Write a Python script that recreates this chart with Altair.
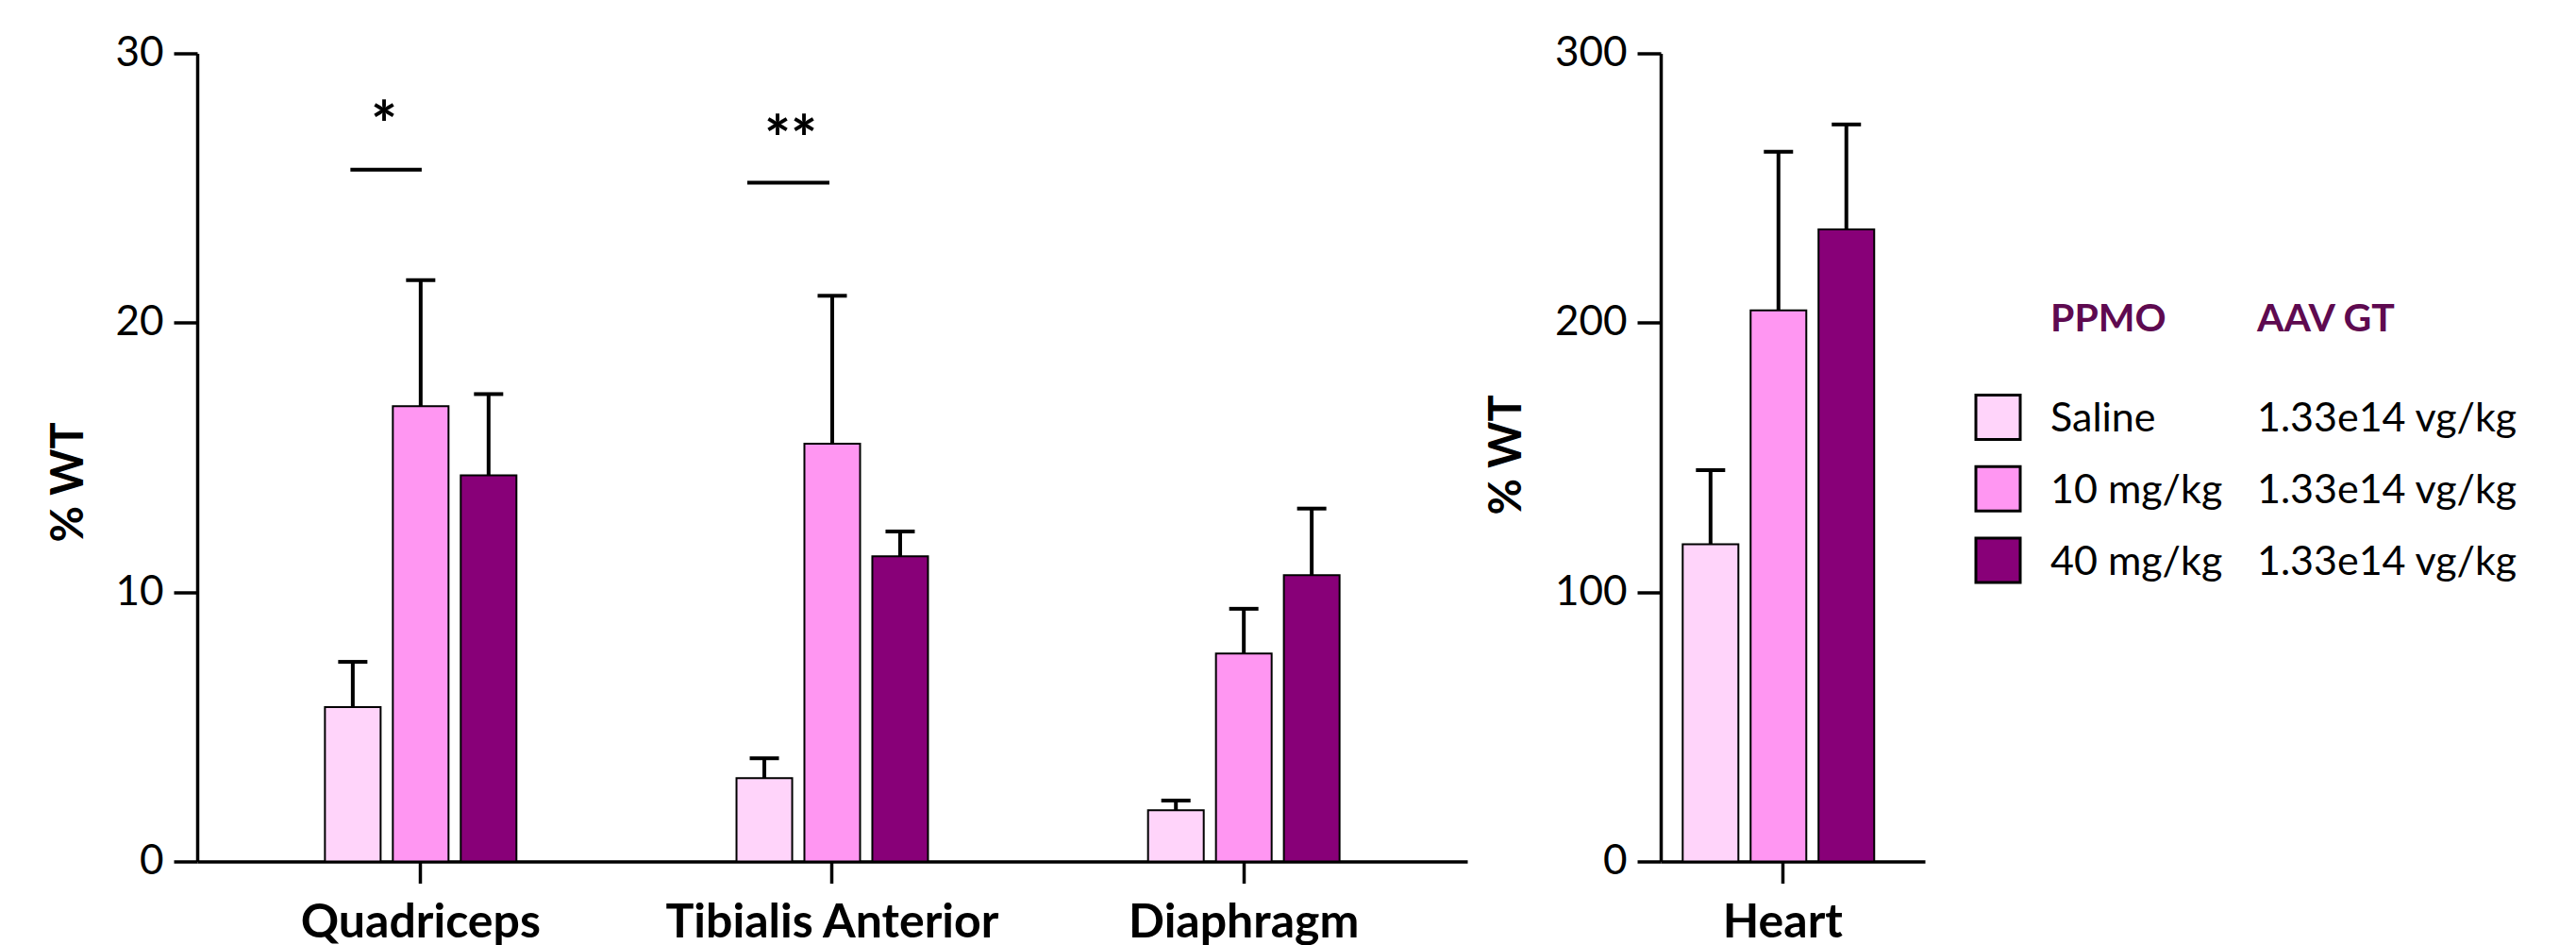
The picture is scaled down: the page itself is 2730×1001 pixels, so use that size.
import altair as alt
import pandas as pd

# ---------------- data ----------------
muscles = ["Quadriceps", "Tibialis Anterior", "Diaphragm"]
groups = ["Saline", "10 mg/kg", "40 mg/kg"]
aav_dose = ["1.33e14 vg/kg", "1.33e14 vg/kg", "1.33e14 vg/kg"]
colors = ["#FFD4FA", "#FF96F2", "#880078"]

saline_mean = [5.73, 3.09, 1.90]
saline_sem = [1.68, 0.74, 0.36]
mg10_mean = [16.9, 15.51, 7.72]
mg10_sem = [4.68, 5.49, 1.66]
mg40_mean = [14.33, 11.33, 10.63]
mg40_sem = [3.02, 0.92, 2.47]

heart_label = ["Heart"]
heart_mean = [117.8, 204.6, 234.6]
heart_sem = [27.5, 58.9, 39.0]

sig_muscle = ["Quadriceps", "Tibialis Anterior"]
sig_line_y = [25.68, 25.2]
sig_text = ["*", "**"]
sig_text_y = [26.5, 26.0]

FONT = "Lato"

rows = []
for gi, (means, sems) in enumerate([(saline_mean, saline_sem), (mg10_mean, mg10_sem), (mg40_mean, mg40_sem)]):
    for mi, m in enumerate(muscles):
        rows.append({"muscle": m, "group": groups[gi], "mean": means[mi], "upper": means[mi] + sems[mi]})
df = pd.DataFrame(rows)

hdf = pd.DataFrame({"muscle": heart_label * 3, "group": groups,
                    "mean": heart_mean, "upper": [m + s for m, s in zip(heart_mean, heart_sem)]})

leg = pd.DataFrame({"group": groups, "aav": aav_dose})

color = alt.Color("group:N", scale=alt.Scale(domain=groups, range=colors), legend=None)


def xenc(domain, sc, axis=True, band=None):
    kw = {}
    if band is not None:
        kw["bandPosition"] = band
    return alt.X("muscle:N", sort=domain, scale=sc,
                 axis=alt.Axis(labelAngle=0, tickSize=23, labelPadding=17, labelFontSize=50,
                               labelFontWeight="bold", labelLimit=0, title=None) if axis else None,
                 title=None, **kw)


xoff = alt.XOffset("group:N", sort=groups, scale=alt.Scale(paddingInner=0.18, paddingOuter=0.09))

# ---------------- left panel ----------------
lscale = alt.Scale(domain=muscles, paddingInner=0.505, paddingOuter=0.2955)
ly = alt.Y("mean:Q", scale=alt.Scale(domain=[0, 30], nice=False),
           axis=alt.Axis(values=[0, 10, 20, 30], tickSize=25, labelPadding=11, labelFontSize=44,
                         title="% WT", titleFontSize=47, titleFontWeight="bold",
                         titleAngle=270, titleBaseline="bottom", titleAlign="center",
                         titleX=-111.5, titleY=454, grid=False))

base = alt.Chart(df)
bars = base.mark_bar(stroke="black", strokeWidth=2).encode(
    x=xenc(muscles, lscale), xOffset=xoff, y=ly, color=color)
erule = base.mark_rule(color="black", strokeWidth=4).encode(
    x=xenc(muscles, lscale), xOffset=xoff, y=alt.Y("mean:Q"), y2="upper:Q")
ecap = base.mark_tick(color="black", thickness=4, size=31, opacity=1).encode(
    x=xenc(muscles, lscale), xOffset=xoff, y=alt.Y("upper:Q"))

sig_layers = []
band_pos = [(0.155, 0.505, 0.32), (0.083, 0.486, 0.296)]
for i, m in enumerate(sig_muscle):
    sd = pd.DataFrame({"muscle": [m], "ly": [sig_line_y[i]], "ty": [sig_text_y[i]], "t": [sig_text[i]]})
    b0, b1, bt = band_pos[i]
    sig_layers.append(alt.Chart(sd).mark_rule(color="black", strokeWidth=4).encode(
        x=xenc(muscles, lscale, band=b0),
        x2=alt.X2("muscle", bandPosition=b1),
        y=alt.Y("ly:Q")))
    sig_layers.append(alt.Chart(sd).mark_text(font=FONT, fontSize=66, fontWeight="bold",
                                              baseline="alphabetic", align="center", color="black").encode(
        x=xenc(muscles, lscale, band=bt), y=alt.Y("ty:Q"), text="t:N"))

left = alt.layer(bars, erule, ecap, *sig_layers).properties(width=1346, height=856)

# ---------------- heart panel ----------------
hscale = alt.Scale(domain=heart_label, paddingInner=0, paddingOuter=0.1222, align=0.306)
hxoff = alt.XOffset("group:N", sort=groups, scale=alt.Scale(paddingInner=0.21, paddingOuter=0.105))
hy = alt.Y("mean:Q", scale=alt.Scale(domain=[0, 300], nice=False),
           axis=alt.Axis(values=[0, 100, 200, 300], tickSize=25, labelPadding=11, labelFontSize=44,
                         title="% WT", titleFontSize=47, titleFontWeight="bold",
                         titleAngle=270, titleBaseline="bottom", titleAlign="center",
                         titleX=-138.5, titleY=425, grid=False))
hb = alt.Chart(hdf)
hbars = hb.mark_bar(stroke="black", strokeWidth=2).encode(
    x=xenc(heart_label, hscale), xOffset=hxoff, y=hy, color=color)
hrule = hb.mark_rule(color="black", strokeWidth=4).encode(
    x=xenc(heart_label, hscale), xOffset=hxoff, y=alt.Y("mean:Q"), y2="upper:Q")
hcap = hb.mark_tick(color="black", thickness=4, size=31, opacity=1).encode(
    x=xenc(heart_label, hscale), xOffset=hxoff, y=alt.Y("upper:Q"))
heart = alt.layer(hbars, hrule, hcap).properties(width=280, height=856)

# ---------------- legend panel ----------------
# panel origin is 205px right of heart plot; legend content sits left of that origin
ley = alt.Y("group:N", sort=groups,
            scale=alt.Scale(type="point", domain=groups, range=[385.5, 537], padding=0), axis=None)
lb = alt.Chart(leg)
lsq = lb.mark_square(size=2209, stroke="black", strokeWidth=3, opacity=1).encode(
    x=alt.value(-127.5), y=ley, color=color)
lt1 = lb.mark_text(font=FONT, fontSize=43, align="left", baseline="alphabetic", dy=15, color="black").encode(
    x=alt.value(-72), y=ley, text="group:N")
lt2 = lb.mark_text(font=FONT, fontSize=43, align="left", baseline="alphabetic", dy=15, color="black").encode(
    x=alt.value(147), y=ley, text="aav:N")
hd = pd.DataFrame({"h": ["PPMO"]})
hd2 = pd.DataFrame({"h": ["AAV GT"]})
h1 = alt.Chart(hd).mark_text(font=FONT, fontSize=41, fontWeight="bold", align="left", baseline="alphabetic",
                             color="#5E0A50").encode(x=alt.value(-72), y=alt.value(294), text="h:N")
h2 = alt.Chart(hd2).mark_text(font=FONT, fontSize=41, fontWeight="bold", align="left", baseline="alphabetic",
                              color="#5E0A50").encode(x=alt.value(147), y=alt.value(294), text="h:N")
legend = alt.layer(lsq, lt1, lt2, h1, h2).properties(width=440, height=856)

chart = alt.hconcat(left, heart, legend, spacing=205, bounds="flush").properties(
    padding={"left": 41, "top": 26.5, "right": 5, "bottom": 5},
    background="white"
).resolve_scale(color="shared").configure_view(stroke=None).configure_axis(
    domainColor="black", domainWidth=3.5, tickColor="black", tickWidth=3.5, labelColor="black",
    titleColor="black", labelFont=FONT, titleFont=FONT, grid=False
)

chart.save("out.html", embed_options={"renderer": "svg", "actions": False})
